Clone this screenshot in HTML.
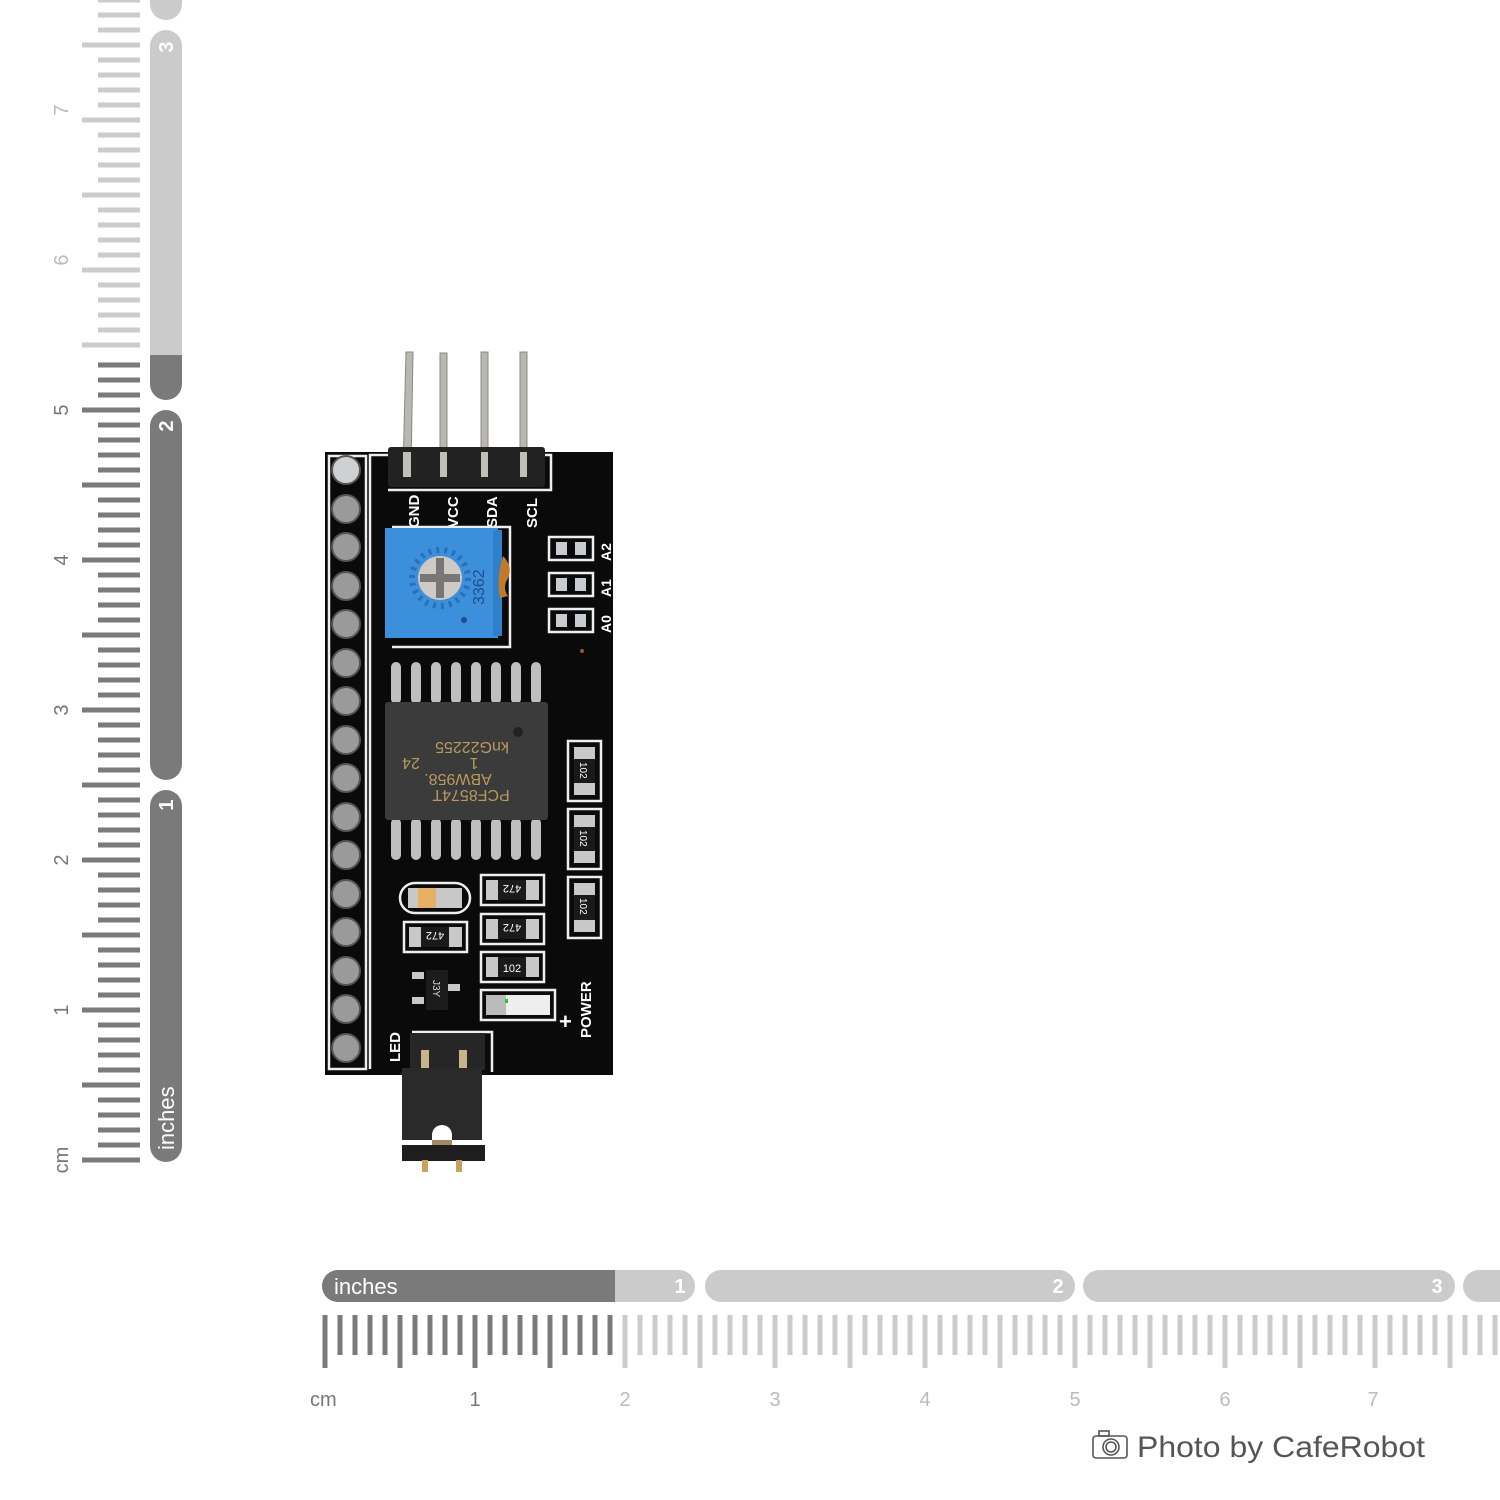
<!DOCTYPE html>
<html><head><meta charset="utf-8"><style>
html,body{margin:0;padding:0;background:#fff;width:1500px;height:1500px;overflow:hidden}
svg{display:block}
</style></head><body>
<svg width="1500" height="1500" viewBox="0 0 1500 1500" xmlns="http://www.w3.org/2000/svg" font-family="Liberation Sans, sans-serif">
<!-- LEFT RULER -->
<line x1="119" y1="1162.5" x2="119" y2="360" stroke="#7a7a7a" stroke-width="42" stroke-dasharray="5 10"/>
<line x1="119" y1="347.5" x2="119" y2="0" stroke="#cbcbcb" stroke-width="42" stroke-dasharray="5 10"/>
<line x1="90" y1="1162.5" x2="90" y2="360" stroke="#7a7a7a" stroke-width="16" stroke-dasharray="5 70"/>
<line x1="90" y1="347.5" x2="90" y2="0" stroke="#cbcbcb" stroke-width="16" stroke-dasharray="5 70"/>
<g fill="#777" font-size="20">
<text transform="translate(68,1160) rotate(-90)" text-anchor="middle">cm</text>
<text transform="translate(68,1010) rotate(-90)" text-anchor="middle">1</text>
<text transform="translate(68,860) rotate(-90)" text-anchor="middle">2</text>
<text transform="translate(68,710) rotate(-90)" text-anchor="middle">3</text>
<text transform="translate(68,560) rotate(-90)" text-anchor="middle">4</text>
<text transform="translate(68,410) rotate(-90)" text-anchor="middle">5</text>
</g>
<g fill="#bbb" font-size="20">
<text transform="translate(68,260) rotate(-90)" text-anchor="middle">6</text>
<text transform="translate(68,110) rotate(-90)" text-anchor="middle">7</text>
</g>
<!-- vertical inch bar -->
<rect x="150" y="-20" width="32" height="40" rx="16" fill="#cbcbcb"/>
<rect x="150" y="30" width="32" height="370" rx="16" fill="#cbcbcb"/>
<path d="M150 355 H182 V384 A16 16 0 0 1 150 384 Z" fill="#7a7a7a"/>
<rect x="150" y="410" width="32" height="370" rx="16" fill="#7a7a7a"/>
<rect x="150" y="790" width="32" height="372" rx="16" fill="#7a7a7a"/>
<g fill="#fff" font-size="20" font-weight="bold">
<text transform="translate(173,47) rotate(-90)" text-anchor="middle">3</text>
<text transform="translate(173,426) rotate(-90)" text-anchor="middle">2</text>
<text transform="translate(173,805) rotate(-90)" text-anchor="middle">1</text>
</g>
<text transform="translate(174,1150) rotate(-90)" fill="#fff" font-size="22">inches</text>

<!-- BOTTOM RULER -->
<rect x="1463" y="1270" width="60" height="32" rx="16" fill="#cbcbcb"/>
<rect x="1083" y="1270" width="372" height="32" rx="16" fill="#cbcbcb"/>
<rect x="705" y="1270" width="370" height="32" rx="16" fill="#cbcbcb"/>
<rect x="322" y="1270" width="373" height="32" rx="16" fill="#cbcbcb"/>
<path d="M338 1270 H615 V1302 H338 A16 16 0 0 1 338 1270 Z" fill="#7a7a7a"/>
<text x="334" y="1294" fill="#fff" font-size="22">inches</text>
<g fill="#fff" font-size="20" font-weight="bold" text-anchor="middle">
<text x="680" y="1293">1</text><text x="1058" y="1293">2</text><text x="1437" y="1293">3</text>
</g>
<line x1="322.5" y1="1335" x2="615" y2="1335" stroke="#7a7a7a" stroke-width="40" stroke-dasharray="5 10"/>
<line x1="622.5" y1="1335" x2="1500" y2="1335" stroke="#cbcbcb" stroke-width="40" stroke-dasharray="5 10"/>
<line x1="322.5" y1="1361" x2="615" y2="1361" stroke="#7a7a7a" stroke-width="14" stroke-dasharray="5 70"/>
<line x1="622.5" y1="1361" x2="1500" y2="1361" stroke="#cbcbcb" stroke-width="14" stroke-dasharray="5 70"/>
<text x="310" y="1406" fill="#777" font-size="20">cm</text>
<text x="475" y="1406" fill="#777" font-size="20" text-anchor="middle">1</text>
<g fill="#bbb" font-size="20" text-anchor="middle">
<text x="625" y="1406">2</text><text x="775" y="1406">3</text><text x="925" y="1406">4</text><text x="1075" y="1406">5</text><text x="1225" y="1406">6</text><text x="1373" y="1406">7</text>
</g>
<!-- camera -->
<g fill="none" stroke="#555" stroke-width="1.6">
<rect x="1093" y="1436" width="34" height="22" rx="3"/>
<rect x="1099" y="1431" width="10" height="5"/>
<circle cx="1111" cy="1447" r="8"/><circle cx="1111" cy="1447" r="5"/>
</g>
<text x="1137" y="1457" fill="#555" font-size="30" textLength="288" lengthAdjust="spacingAndGlyphs">Photo by CafeRobot</text>

<!-- BOARD -->
<g fill="#b8b8b0" stroke="#888" stroke-width="1">
<path d="M406 352 L413 352 L411 470 L403 470 Z"/>
<rect x="440" y="353" width="7" height="117"/>
<rect x="481" y="352" width="7" height="118"/>
<rect x="520" y="352" width="7" height="118"/>
</g>
<rect x="325" y="452" width="288" height="623" fill="#0a0a0a"/>
<rect x="329" y="456" width="37" height="613" fill="none" stroke="#eee" stroke-width="2.5"/>
<g fill="#9a9a9a" stroke="#555" stroke-width="2">
<circle cx="346" cy="470" r="14" fill="#cfd0d2"/>
<circle cx="346" cy="509" r="14"/><circle cx="346" cy="547" r="14"/><circle cx="346" cy="586" r="14"/>
<circle cx="346" cy="624" r="14"/><circle cx="346" cy="663" r="14"/><circle cx="346" cy="701" r="14"/>
<circle cx="346" cy="740" r="14"/><circle cx="346" cy="778" r="14"/><circle cx="346" cy="817" r="14"/>
<circle cx="346" cy="855" r="14"/><circle cx="346" cy="894" r="14"/><circle cx="346" cy="932" r="14"/>
<circle cx="346" cy="971" r="14"/><circle cx="346" cy="1009" r="14"/><circle cx="346" cy="1048" r="14"/>
</g>
<path d="M370 1069 V455 H388 M545 455 H551 V490 H388" fill="none" stroke="#eee" stroke-width="2.5"/>
<rect x="388" y="447" width="157" height="40" rx="3" fill="#222"/>
<g fill="#c0c0b8"><rect x="403" y="452" width="8" height="25"/><rect x="440" y="452" width="7" height="25"/><rect x="481" y="452" width="7" height="25"/><rect x="520" y="452" width="7" height="25"/></g>
<g fill="#fff" font-size="15" font-weight="bold">
<text transform="translate(419,528) rotate(-90)">GND</text>
<text transform="translate(458,528) rotate(-90)">VCC</text>
<text transform="translate(497,528) rotate(-90)">SDA</text>
<text transform="translate(537,528) rotate(-90)">SCL</text>
</g>
<!-- pot -->
<path d="M392 527 H510 V647 H392" fill="none" stroke="#eee" stroke-width="2.5"/>
<rect x="385" y="528" width="113" height="110" fill="#3b8fdb"/>
<rect x="493" y="530" width="9" height="106" fill="#2f7fca"/>
<circle cx="440" cy="578" r="28" fill="none" stroke="#2a70b8" stroke-width="6" stroke-dasharray="3 5"/>
<circle cx="440" cy="578" r="22" fill="#cfcbc4"/>
<rect x="436" y="558" width="8" height="40" fill="#777"/><rect x="420" y="574" width="40" height="8" fill="#777"/>
<text transform="translate(484,605) rotate(-90)" fill="#1f4f90" font-size="16">3362</text>
<circle cx="464" cy="620" r="3" fill="#1f4f90"/>
<path d="M503 556 q10 10 5 22 q-6 10 0 18 l-8 2 q-4 -20 3 -42z" fill="#c07a28"/>
<g fill="none" stroke="#eee" stroke-width="2.5">
<rect x="549" y="537" width="44" height="23"/><rect x="549" y="573" width="44" height="23"/><rect x="549" y="609" width="44" height="23"/>
</g>
<g fill="#c8ccd0">
<rect x="556" y="542" width="11" height="13"/><rect x="575" y="542" width="11" height="13"/>
<rect x="556" y="578" width="11" height="13"/><rect x="575" y="578" width="11" height="13"/>
<rect x="556" y="614" width="11" height="13"/><rect x="575" y="614" width="11" height="13"/>
</g>
<g fill="#fff" font-size="14" font-weight="bold">
<text transform="translate(611,561) rotate(-90)">A2</text>
<text transform="translate(611,597) rotate(-90)">A1</text>
<text transform="translate(611,633) rotate(-90)">A0</text>
</g>
<circle cx="582" cy="651" r="2" fill="#a0522d"/>
<!-- IC -->
<g fill="#bfbfbf">
<rect x="391" y="662" width="10" height="42" rx="5"/><rect x="411" y="662" width="10" height="42" rx="5"/><rect x="431" y="662" width="10" height="42" rx="5"/><rect x="451" y="662" width="10" height="42" rx="5"/>
<rect x="471" y="662" width="10" height="42" rx="5"/><rect x="491" y="662" width="10" height="42" rx="5"/><rect x="511" y="662" width="10" height="42" rx="5"/><rect x="531" y="662" width="10" height="42" rx="5"/>
<rect x="391" y="818" width="10" height="42" rx="5"/><rect x="411" y="818" width="10" height="42" rx="5"/><rect x="431" y="818" width="10" height="42" rx="5"/><rect x="451" y="818" width="10" height="42" rx="5"/>
<rect x="471" y="818" width="10" height="42" rx="5"/><rect x="491" y="818" width="10" height="42" rx="5"/><rect x="511" y="818" width="10" height="42" rx="5"/><rect x="531" y="818" width="10" height="42" rx="5"/>
</g>
<rect x="385" y="702" width="163" height="118" rx="3" fill="#3b3b3b"/>
<circle cx="518" cy="732" r="5" fill="#222"/>
<g fill="#b89a5c" font-size="16" text-anchor="middle">
<text x="472" y="754" transform="rotate(180 472 748)">knG22255</text>
<text x="474" y="770" transform="rotate(180 474 764)">1</text>
<text x="411" y="770" transform="rotate(180 411 764)">24</text>
<text x="458" y="786" transform="rotate(180 458 780)">ABW958.</text>
<text x="471" y="802" transform="rotate(180 471 796)">PCF8574T</text>
</g>
<!-- right resistors -->
<g fill="none" stroke="#eee" stroke-width="2.5">
<rect x="568" y="741" width="33" height="60"/><rect x="568" y="809" width="33" height="60"/><rect x="568" y="877" width="33" height="61"/>
</g>
<g fill="#c8c8c8"><rect x="574" y="747" width="21" height="48"/><rect x="574" y="815" width="21" height="48"/><rect x="574" y="883" width="21" height="49"/></g>
<g fill="#1a1a1a"><rect x="574" y="759" width="21" height="24"/><rect x="574" y="827" width="21" height="24"/><rect x="574" y="895" width="21" height="25"/></g>
<g fill="#fff" font-size="10"><text transform="translate(580,762) rotate(90)">102</text><text transform="translate(580,830) rotate(90)">102</text><text transform="translate(580,898) rotate(90)">102</text></g>
<!-- middle resistors -->
<g fill="none" stroke="#eee" stroke-width="2.5">
<rect x="481" y="875" width="63" height="30"/><rect x="481" y="914" width="63" height="30"/><rect x="481" y="952" width="63" height="30"/>
<rect x="404" y="922" width="63" height="30"/>
<rect x="400" y="883" width="70" height="30" rx="15"/>
<rect x="481" y="990" width="74" height="30"/>
</g>
<g fill="#c8c8c8"><rect x="486" y="880" width="53" height="20"/><rect x="486" y="919" width="53" height="20"/><rect x="486" y="957" width="53" height="20"/><rect x="409" y="927" width="53" height="20"/><rect x="408" y="888" width="54" height="20"/></g>
<g fill="#1a1a1a"><rect x="498" y="880" width="28" height="20"/><rect x="498" y="919" width="28" height="20"/><rect x="498" y="957" width="28" height="20"/><rect x="421" y="927" width="28" height="20"/></g>
<rect x="418" y="888" width="18" height="20" fill="#e6b064"/>
<g fill="#fff" font-size="11" text-anchor="middle">
<text x="512" y="895" transform="rotate(180 512 890)">472</text>
<text x="512" y="934" transform="rotate(180 512 929)">472</text>
<text x="512" y="972">102</text>
<text x="435" y="942" transform="rotate(180 435 937)">472</text>
</g>
<g fill="#c8c8c8"><rect x="412" y="972" width="12" height="7"/><rect x="412" y="997" width="12" height="7"/><rect x="448" y="984" width="12" height="7"/></g>
<rect x="426" y="970" width="22" height="40" fill="#1c1c1c"/>
<text transform="translate(433,980) rotate(90)" fill="#ddd" font-size="10">J3Y</text>
<rect x="486" y="995" width="64" height="20" fill="#eee"/>
<rect x="486" y="995" width="20" height="20" fill="#bbb"/>
<rect x="505" y="999" width="3" height="4" fill="#2c2"/>
<text x="559" y="1029" fill="#fff" font-size="22" font-weight="bold">+</text>
<text transform="translate(591,1038) rotate(-90)" fill="#fff" font-size="15" font-weight="bold">POWER</text>
<text transform="translate(400,1062) rotate(-90)" fill="#fff" font-size="15" font-weight="bold">LED</text>
<!-- jumper -->
<path d="M412 1032 H492 V1072" fill="none" stroke="#eee" stroke-width="2.5"/>
<rect x="410" y="1033" width="75" height="37" fill="#262626"/>
<rect x="421" y="1050" width="8" height="20" fill="#c8b48a"/><rect x="459" y="1050" width="8" height="20" fill="#c8b48a"/>
<path d="M402 1068 H482 V1140 H452 V1135 A10 10 0 0 0 432 1135 V1140 H402 Z" fill="#2a2a2a"/>
<rect x="432" y="1140" width="20" height="10" fill="#a08a66"/>
<rect x="402" y="1145" width="83" height="16" fill="#1e1e1e"/>
<rect x="422" y="1160" width="6" height="12" fill="#c8a060"/><rect x="456" y="1160" width="6" height="12" fill="#c8a060"/>
</svg>
</body></html>
